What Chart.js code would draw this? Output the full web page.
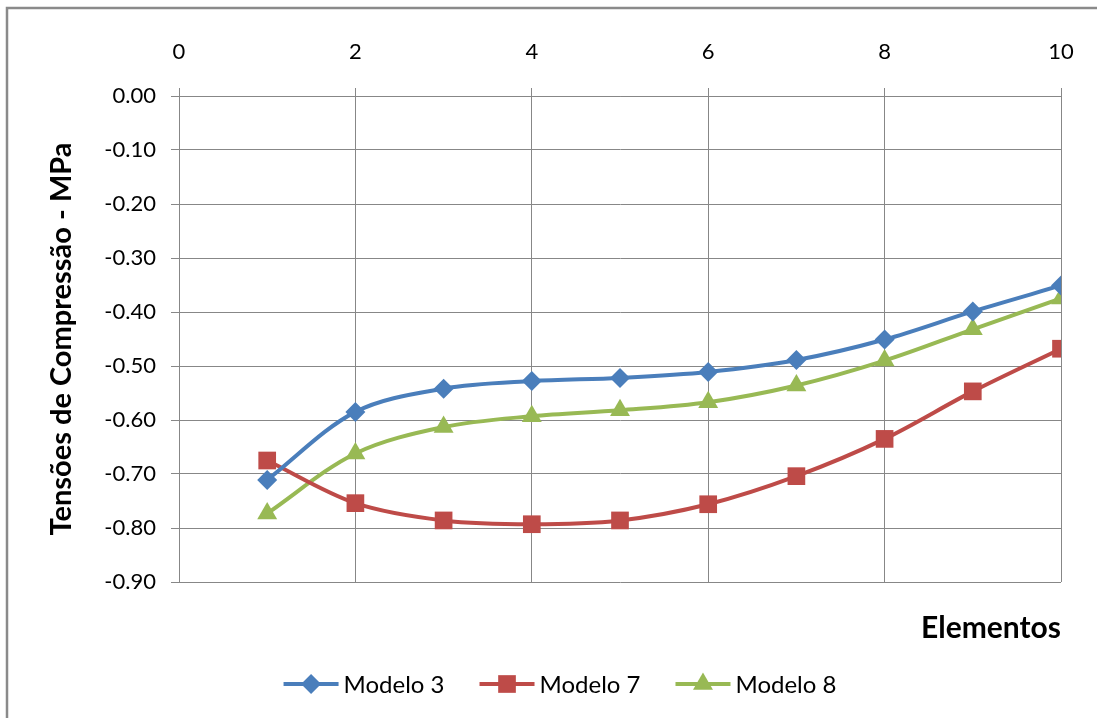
<!DOCTYPE html>
<html>
<head>
<meta charset="utf-8">
<script src="https://cdn.jsdelivr.net/npm/chart.js@4/dist/chart.umd.min.js"></script>
<style>
  html, body { margin: 0; padding: 0; background: #fff; }
  #wrap { width: 1097px; height: 718px; }
</style>
</head>
<body>
<div id="wrap"><canvas id="myChart" width="1097" height="718"></canvas></div>
<script>
// Data
const elementos = [1, 2, 3, 4, 5, 6, 7, 8, 9, 10];
const modelo3 = [-0.711, -0.585, -0.542, -0.528, -0.522, -0.511, -0.489, -0.451, -0.399, -0.351];
const modelo7 = [-0.675, -0.754, -0.786, -0.793, -0.786, -0.756, -0.704, -0.635, -0.547, -0.468];
const modelo8 = [-0.773, -0.662, -0.613, -0.593, -0.582, -0.567, -0.536, -0.490, -0.432, -0.375];
const xTicks = [0, 2, 4, 6, 8, 10];
const yTicks = [0, -0.1, -0.2, -0.3, -0.4, -0.5, -0.6, -0.7, -0.8, -0.9];

const FONT = 'Lato, "Open Sans", sans-serif';
const GRID = '#878787';

function pts(values) {
    return elementos.map(function (x, i) { return { x: x, y: values[i] }; });
}

function series(label, values, color, style, radius) {
    return {
        label: label,
        data: pts(values),
        borderColor: color,
        backgroundColor: color,
        borderWidth: 4,
        pointStyle: style,
        pointRadius: radius,
        pointHoverRadius: radius,
        pointBorderWidth: 0,
        tension: 0.33
    };
}

// Outer frame (only top and left edges are visible in the reference)
const framePlugin = {
    id: 'frame',
    beforeDraw: function (chart) {
        const c = chart.ctx;
        c.save();
        c.strokeStyle = '#8a8a8a';
        c.lineWidth = 2.5;
        c.beginPath();
        c.moveTo(7, 718);
        c.lineTo(7, 8);
        c.lineTo(1097, 8);
        c.stroke();
        c.restore();
    }
};

// Legend with a short line through each marker, Excel style
const lineLegend = {
    id: 'lineLegend',
    afterDraw: function (chart) {
        const c = chart.ctx;
        const ds = chart.data.datasets;
        const lineW = 55, gap = 5, spacing = 35;
        c.save();
        c.font = '24px ' + FONT;
        c.textBaseline = 'middle';
        var widths = ds.map(function (d) { return lineW + gap + c.measureText(d.label).width; });
        var total = widths.reduce(function (a, b) { return a + b; }, 0) + spacing * (ds.length - 1);
        var x = 560 - total / 2;
        var y = 684;
        ds.forEach(function (d, i) {
            c.strokeStyle = d.borderColor;
            c.lineWidth = 4;
            c.beginPath();
            c.moveTo(x, y);
            c.lineTo(x + lineW, y);
            c.stroke();
            c.fillStyle = d.backgroundColor;
            Chart.helpers.drawPoint(c, { pointStyle: d.pointStyle, radius: d.pointRadius, borderWidth: 0 }, x + lineW / 2, y);
            c.fillStyle = '#000';
            c.fillText(d.label, x + lineW + gap, y + 1);
            x += widths[i] + spacing;
        });
        c.restore();
    }
};

const ctx = document.getElementById('myChart').getContext('2d');
const myChart = new Chart(ctx, {
    type: 'line',
    data: {
        datasets: [
            series('Modelo 3', modelo3, '#4A7EBB', 'rectRot', 10),
            series('Modelo 7', modelo7, '#BE4B48', 'rect', 12.5),
            series('Modelo 8', modelo8, '#98B954', 'triangle', 11.5)
        ]
    },
    options: {
        responsive: false,
        animation: false,
        layout: { padding: { left: 9, top: 10, right: 36, bottom: 72 } },
        plugins: {
            legend: { display: false },
            tooltip: { enabled: false },
            title: {
                display: true,
                text: 'Elementos',
                position: 'bottom',
                align: 'end',
                fullSize: false,
                color: '#000',
                font: { family: FONT, size: 30, weight: 'bold' },
                padding: { top: 28, bottom: 0 }
            }
        },
        scales: {
            x: {
                type: 'linear',
                position: 'top',
                min: 0,
                max: 10,
                afterBuildTicks: function (scale) {
                    scale.ticks = xTicks.map(function (v) { return { value: v }; });
                },
                afterFit: function (scale) { scale.height = 86; },
                ticks: {
                    color: '#000',
                    font: { family: FONT, size: 22 },
                    padding: 23,
                    maxRotation: 0
                },
                grid: { color: GRID, lineWidth: 1, tickLength: 8 },
                border: { color: GRID, width: 1 }
            },
            y: {
                min: -0.9,
                max: 0,
                afterBuildTicks: function (scale) {
                    scale.ticks = yTicks.map(function (v) { return { value: v }; });
                },
                afterFit: function (scale) { scale.width = 170; },
                ticks: {
                    color: '#000',
                    font: { family: FONT, size: 22 },
                    padding: 15,
                    callback: function (v) { return Number(v).toFixed(2); }
                },
                grid: { color: GRID, lineWidth: 1, tickLength: 8 },
                border: { color: GRID, width: 1 },
                title: {
                    display: true,
                    text: 'Tensões de Compressão - MPa',
                    color: '#000',
                    font: { family: FONT, size: 29, weight: 'bold' },
                    padding: { top: 35, bottom: 0 }
                }
            }
        }
    },
    plugins: [framePlugin, lineLegend]
});
</script>
</body>
</html>
